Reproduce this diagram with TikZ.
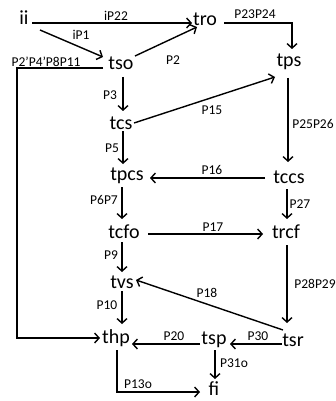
\documentclass[tikz,border=0pt]{standalone}
\usepackage{fontspec}
\setmainfont{Carlito}
\usetikzlibrary{arrows.meta}
\begin{document}
\begin{tikzpicture}[x=1pt,y=-1pt,
  st/.style={inner sep=0pt,font=\fontsize{20}{20}\selectfont},
  lb/.style={inner sep=0pt,font=\fontsize{13.5}{14}\selectfont},
  ln/.style={line width=1.4pt,line join=miter},
  arr/.style={ln,-{Straight Barb[length=4.5pt,width=10pt,line width=1.4pt]}}]
\useasboundingbox (0,0) rectangle (335,401);
% states
\node[st] (ii) at (24,18) {ii};
\node[st] (tro) at (205,19) {tro};
\node[st] (tso) at (121,63) {tso};
\node[st] (tps) at (289,62) {tps};
\node[st] (tcs) at (121,123) {tcs};
\node[st] (tpcs) at (127,176) {tpcs};
\node[st] (tccs) at (289,177) {tccs};
\node[st] (tcfo) at (124,232) {tcfo};
\node[st] (trcf) at (286,232) {trcf};
\node[st] (tvs) at (122,282) {tvs};
\node[st] (thp) at (116,338) {thp};
\node[st] (tsp) at (214,340) {tsp};
\node[st] (tsr) at (293,340) {tsr};
\node[st] (fi) at (214,389) {fi};
% connectors
\draw[arr] ([shift={(8,5)}]ii.center) -- ([shift={(-13,4)}]tro.center);
\draw[arr] ([shift={(16,12)}]ii.center) -- ([shift={(-18,-6)}]tso.center);
\draw[arr] ([shift={(14,-7)}]tso.center) -- ([shift={(-8,8)}]tro.center);
\draw[arr] ([shift={(-18,5)}]tso.center) -| (17,338) -- ([shift={(-16,0)}]thp.center);
\draw[arr] ([shift={(19,4)}]tro.center) -| ([shift={(3,-13)}]tps.center);
\draw[arr] ([shift={(2,14)}]tso.center) -- ([shift={(2,-12)}]tcs.center);
\draw[arr] ([shift={(13,0)}]tcs.center) -- ([shift={(-14,15)}]tps.center);
\draw[arr] ([shift={(-1,16)}]tps.center) -- ([shift={(-1,-15)}]tccs.center);
\draw[arr] ([shift={(2,8)}]tcs.center) -- ([shift={(-4,-12)}]tpcs.center);
\draw[arr] ([shift={(-24,1)}]tccs.center) -- ([shift={(23,2)}]tpcs.center);
\draw[arr] ([shift={(-2,12)}]tccs.center) -- ([shift={(1,-13)}]trcf.center);
\draw[arr] ([shift={(-5,11)}]tpcs.center) -- ([shift={(-2,-13)}]tcfo.center);
\draw[arr] ([shift={(24,2)}]tcfo.center) -- ([shift={(-23,2)}]trcf.center);
\draw[arr] ([shift={(-2,10)}]tcfo.center) -- ([shift={(0,-10)}]tvs.center);
\draw[arr] ([shift={(-10,-10)}]tsr.center) -- ([shift={(14,-2)}]tvs.center);
\draw[arr] ([shift={(1,13)}]trcf.center) -- ([shift={(-6,-17)}]tsr.center);
\draw[arr] ([shift={(0,9)}]tvs.center) -- ([shift={(6,-14)}]thp.center);
\draw[arr] ([shift={(-11,4)}]tsr.center) -- ([shift={(16,4)}]tsp.center);
\draw[arr] ([shift={(-14,4)}]tsp.center) -- ([shift={(16,6)}]thp.center);
\draw[arr] ([shift={(1,10)}]tsp.center) -- ([shift={(1,-10)}]fi.center);
\draw[arr] ([shift={(1,12)}]thp.center) |- ([shift={(-14,3)}]fi.center);
% labels
\node[lb] (l1) at (116,16) {iP22};
\node[lb] (l2) at (81,35) {iP1};
\node[lb] (l3) at (173,60) {P2};
\node[lb] (l4) at (46,62) {P2’P4’P8P11};
\node[lb] (l5) at (255,14) {P23P24};
\node[lb] (l6) at (110,95) {P3};
\node[lb] (l7) at (212,110) {P15};
\node[lb] (l8) at (313,124) {P25P26};
\node[lb] (l9) at (112,148) {P5};
\node[lb] (l10) at (212,170) {P16};
\node[lb] (l11) at (300,204) {P27};
\node[lb] (l12) at (104,200) {P6P7};
\node[lb] (l13) at (213,227) {P17};
\node[lb] (l14) at (111,255) {P9};
\node[lb] (l15) at (207,293) {P18};
\node[lb] (l16) at (315,284) {P28P29};
\node[lb] (l17) at (107,305) {P10};
\node[lb] (l18) at (258,336) {P30};
\node[lb] (l19) at (174,336) {P20};
\node[lb] (l20) at (234,363) {P31o};
\node[lb] (l21) at (138,384) {P13o};
\end{tikzpicture}
\end{document}
